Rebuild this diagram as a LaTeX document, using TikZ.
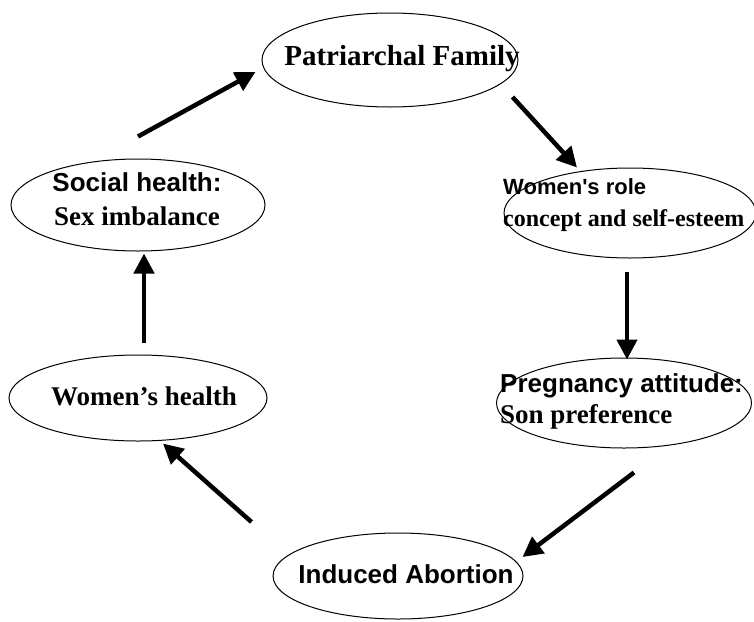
\documentclass[tikz,border=0pt]{standalone}
\usepackage{fontspec}
\setmainfont{Liberation Serif}
\newfontfamily\headsans{Liberation Sans}
\usetikzlibrary{arrows.meta, shapes.geometric}

\begin{document}
\begin{tikzpicture}
      [ x=1pt, y=-1pt
      , stage/.style={draw, ellipse, line width=1pt, inner sep=0pt}
      , serifTxt/.style={font=\bfseries\fontsize{27}{34}\selectfont}
      , sansTxt/.style={font=\headsans\bfseries\fontsize{26}{34}\selectfont}
      , link/.style={black, draw, line width=4.5pt, -{Triangle[length=20pt, width=20pt]}}
      ]
    \useasboundingbox (0,0) rectangle (754,621);

    \node[stage, minimum width=256pt, minimum height=94pt] (PF) at (390,60) {};
    \node[stage, minimum width=252pt, minimum height=90pt] (WR) at (630,213) {};
    \node[stage, minimum width=255pt, minimum height=90pt] (PA) at (624,403) {};
    \node[stage, minimum width=250pt, minimum height=86pt] (IA) at (398,576) {};
    \node[stage, minimum width=258pt, minimum height=86pt] (WH) at (138,398) {};
    \node[stage, minimum width=254pt, minimum height=92pt] (SH) at (138,205) {};

    \node[serifTxt, font=\bfseries\fontsize{29}{34}\selectfont] (PFtext) at (402,59) {Patriarchal Family};
    \node[serifTxt, align=left, anchor=west, inner sep=0pt] (WRtext) at (503,205)
      {{\headsans\fontsize{22}{23}\selectfont Women's role}\\[-2pt]
       {\fontsize{24}{23}\selectfont concept and self-esteem}};
    \node[serifTxt, align=left, anchor=west, inner sep=0pt] (PAtext) at (500,401)
      {{\headsans\fontsize{26}{30}\selectfont Pregnancy attitude:}\\[-3pt]
       Son preference};
    \node[sansTxt] (IAtext) at (406,574) {Induced Abortion};
    \node[serifTxt] (WHtext) at (144,396) {Women's health};
    \node[serifTxt, align=center, inner sep=0pt] (SHtext) at (137,199)
      {{\headsans\fontsize{26}{34}\selectfont Social health:}\\
       Sex imbalance};

    \path
    ([shift={(0,-22)}]SH.north) edge[link] ([shift={(-6,12)}]PF.west)
    ([shift={(-6,37)}]PF.east) edge[link] ([shift={(-53,0)}]WR.north)
    ([shift={(-3,13)}]WR.south) edge[link] ([shift={(3,2)}]PA.north)
    ([shift={(10,24)}]PA.south) edge[link] ([shift={(-1,-19)}]IA.east)
    ([shift={(-21,-54)}]IA.west) edge[link] ([shift={(25,2)}]WH.south)
    ([shift={(6,-12)}]WH.north) edge[link] ([shift={(6,2)}]SH.south);

  \end{tikzpicture}
\end{document}
